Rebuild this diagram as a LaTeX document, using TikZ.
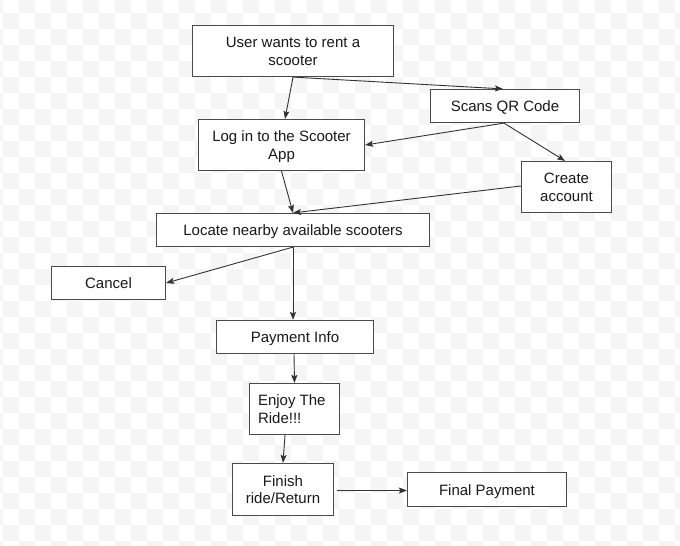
\documentclass[tikz,border=0pt]{standalone}
\usepackage{fontspec}
\setmainfont{Liberation Sans}
\usetikzlibrary{arrows.meta}
\definecolor{checker}{HTML}{F5F5F5}
\definecolor{boxline}{HTML}{4A4A4A}
\definecolor{wire}{HTML}{333333}
\begin{document}
\begin{tikzpicture}[x=1pt,y=-1pt,
  stepbox/.style={draw=boxline,line width=1.2pt,fill=white,rectangle,
    inner sep=0pt,align=center,text=black!90,
    font=\fontsize{15}{17.7}\selectfont},
  oneline/.style={stepbox,text height=11.3pt,text depth=0pt},
  flow/.style={draw=wire,line width=0.9pt,
    -{Stealth[length=8pt,width=6pt,inset=1.5pt]}}]
\useasboundingbox (0,0) rectangle (680,546);
% light checkerboard backdrop
\begin{scope}
\clip (0,0) rectangle (680,546);
\fill[white] (0,0) rectangle (680,546);
\foreach \i in {0,...,43}{
  \foreach \j in {0,...,35}{
    \pgfmathtruncatemacro\cellparity{mod(\i+\j,2)}
    \ifnum\cellparity=0
      \fill[checker] (16*\i-13,16*\j-3) rectangle ++(16,16);
    \fi
  }
}
\end{scope}
% process steps
\node[stepbox,minimum width=201pt,minimum height=51pt] (user) at (293,51)
  {User wants to rent a\\\smash{scooter}};
\node[oneline,minimum width=149pt,minimum height=33pt] (qr) at (505,106)
  {Scans QR Code};
\node[stepbox,minimum width=166pt,minimum height=51pt] (login) at (281.5,145)
  {Log in to the Scooter\\\smash{App}};
\node[stepbox,minimum width=90pt,minimum height=51pt] (create) at (566.5,187)
  {Create\\\smash{account}};
\node[oneline,minimum width=273pt,minimum height=33pt] (locate) at (293,230)
  {Locate nearby available scooters};
\node[oneline,minimum width=114pt,minimum height=33pt] (cancel) at (108.5,283)
  {Cancel};
\node[oneline,minimum width=157pt,minimum height=33pt] (pay) at (295,337)
  {Payment Info};
\node[stepbox,minimum width=90pt,minimum height=51pt,text width=73pt,align=flush left]
  (enjoy) at (294.5,409) {Enjoy The\\\smash{Ride!!!}};
\node[stepbox,minimum width=101pt,minimum height=52pt] (finish) at (283,489.5)
  {Finish\\\smash{ride/Return}};
\node[oneline,minimum width=159pt,minimum height=34pt] (final) at (487,489.5)
  {Final Payment};
% connectors
\draw[flow] (user.south) -- ([xshift=3.5pt]login.north);
\draw[flow] (user.south) -- ([xshift=-2pt]qr.north);
\draw[flow] ([xshift=-1pt]qr.south) -- (login.east);
\draw[flow] ([xshift=-1pt]qr.south) -- ([xshift=-1.5pt]create.north);
\draw[flow] (login.south) -- (locate.north);
\draw[flow] ([yshift=1pt]create.west) -- (locate.north);
\draw[flow] (locate.south) -- (cancel.east);
\draw[flow] (locate.south) -- ([xshift=-2pt]pay.north);
\draw[flow] ([xshift=-1pt]pay.south) -- (enjoy.north);
\draw[flow] ([xshift=-9.5pt]enjoy.south) -- (finish.north);
\draw[flow,shorten <=2.5pt] ([yshift=-1pt]finish.east) -- ([yshift=-1pt]final.west);
\end{tikzpicture}
\end{document}
